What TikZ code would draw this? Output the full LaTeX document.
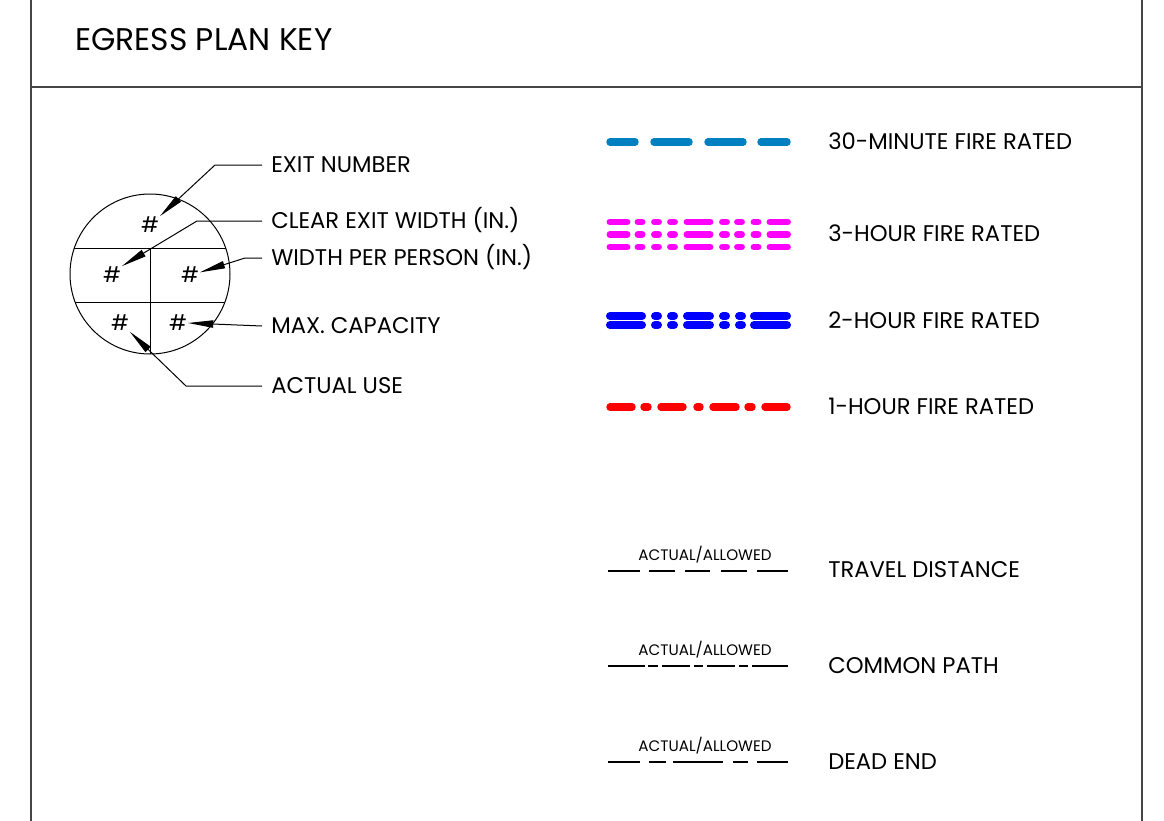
\documentclass[tikz,border=0pt]{standalone}
\usepackage{fontspec}
\setmainfont{Poppins}
\usetikzlibrary{arrows.meta}

\definecolor{halfblue}{RGB}{0,128,192}
\definecolor{threemag}{RGB}{255,0,255}
\definecolor{twoblue}{RGB}{0,0,255}
\definecolor{onered}{RGB}{255,0,0}
\definecolor{framegray}{RGB}{70,70,70}

\tikzset{
  frameline/.style={draw=framegray, line width=1.1pt},
  tagline/.style={draw=black, line width=0.75pt},
  hashmark/.style={inner sep=0.5pt, font=\fontsize{16}{16}\selectfont},
  keylabel/.style={anchor=west, inner xsep=6.75pt, inner ysep=0pt, text height=11.9pt, text depth=0pt, font=\fontsize{17}{17}\selectfont},
  ratelabel/.style={anchor=west, inner sep=0pt, text height=11.9pt, text depth=0pt, font=\fontsize{17}{17}\selectfont},
  smalllabel/.style={inner sep=0pt, text height=8pt, text depth=0pt, font=\fontsize{11.4}{11.4}\selectfont},
  leader/.style={draw=black, line width=0.75pt, -{Triangle[length=19pt, width=5.5pt]}},
  halfline/.style={draw=halfblue, line cap=round, line width=5.6pt},
  threeline/.style={draw=threemag, line cap=round, line width=5.2pt},
  twoline/.style={draw=twoblue, line cap=round, line width=6pt},
  oneline/.style={draw=onered, line cap=round, line width=5.6pt},
  pathline/.style={draw=black, line width=2.2pt},
}

\begin{document}
\begin{tikzpicture}[x=0.75pt, y=-0.75pt]

	\useasboundingbox (0,0) rectangle (1164,821);

	% Frame
	\draw[frameline] (31,0) -- (31,821);
	\draw[frameline] (1142,0) -- (1142,821);
	\draw[frameline] (31,87) -- (1142,87);

	% Title
	\node[anchor=west, inner sep=0pt, font=\fontsize{23.5}{23.5}\selectfont] (title) at (75,40) {EGRESS PLAN KEY};

	% Exit tag
	\begin{scope}
		\clip (150,274) circle[radius=60pt];
		\draw[tagline] (60,248) -- (240,248);
		\draw[tagline] (60,302) -- (240,302);
		\draw[tagline] (150,248) -- (150,360);
	\end{scope}
	\node[circle, tagline, minimum size=120pt, inner sep=0pt] (tag) at (150,274) {};

	\node[hashmark] (h1) at (150,225) {\#};
	\node[hashmark] (h2) at (112,275) {\#};
	\node[hashmark] (h3) at (190,275) {\#};
	\node[hashmark] (h4) at (178,323) {\#};
	\node[hashmark] (h5) at (120,323) {\#};

	% Tag labels
	\node[keylabel] (exitno) at (262,165) {EXIT NUMBER};
	\node[keylabel] (clearw) at (262,221) {CLEAR EXIT WIDTH (IN.)};
	\node[keylabel] (perperson) at (262,258) {WIDTH PER PERSON (IN.)};
	\node[keylabel] (maxcap) at (262,326) {MAX. CAPACITY};
	\node[keylabel] (actual) at (262,386) {ACTUAL USE};

	% Leaders
	\coordinate (k1) at (215,165);
	\coordinate (k2) at (197,221);
	\coordinate (k3) at (245,258);
	\coordinate (k5) at (186,386);
	\draw[leader] (exitno.west) -- (k1) -- (h1.north east);
	\draw[leader] (clearw.west) -- (k2) -- (h2.north east);
	\draw[leader] (perperson.west) -- (k3) -- (h3.15);
	\draw[leader] (maxcap.west) -- (h4.east);
	\draw[leader] (actual.west) -- (k5) -- (h5.south east);

	% Rated walls
	\foreach \a/\b in {610/635, 654/689, 708/743, 761/787}
		\draw[halfline] (\a,142) -- (\b,142);
	\foreach \y in {222,234.5,247}
		\foreach \a/\b in {610/627, 638/642, 654.5/658.5, 670.5/674.5, 687/710, 722.5/726.5, 737.5/741.5, 754/758, 770/787.5}
			\draw[threeline] (\a,\y) -- (\b,\y);
	\foreach \y in {316,325}
		\foreach \a/\b in {610/642, 655/658, 671/674, 687/710, 723/726, 739/742, 754/787}
			\draw[twoline] (\a,\y) -- (\b,\y);
	\foreach \a/\b in {610/632, 644/648, 661/683, 697/700, 713/736, 748/752, 765/787}
		\draw[oneline] (\a,407) -- (\b,407);

	\node[ratelabel] (r30) at (828,142) {30-MINUTE FIRE RATED};
	\node[ratelabel] (r3) at (828,234) {3-HOUR FIRE RATED};
	\node[ratelabel] (r2) at (828,321) {2-HOUR FIRE RATED};
	\node[ratelabel] (r1) at (828,407) {1-HOUR FIRE RATED};

	% Egress paths
	\foreach \a/\b in {608/640, 649/675, 685/710, 721/747, 757/788}
		\draw[pathline] (\a,571) -- (\b,571);
	\foreach \a/\b in {608/645, 648/658, 662/690, 694/703, 707/735, 739/748, 752/788}
		\draw[pathline] (\a,666) -- (\b,666);
	\foreach \a/\b in {608/640, 649/666, 673/723, 733/748, 757/788}
		\draw[pathline] (\a,762) -- (\b,762);

	\node[smalllabel] (ta) at (705,555) {ACTUAL/ALLOWED};
	\node[smalllabel] (ca) at (705,650) {ACTUAL/ALLOWED};
	\node[smalllabel] (da) at (705,746) {ACTUAL/ALLOWED};

	\node[ratelabel] (travel) at (828,570) {TRAVEL DISTANCE};
	\node[ratelabel] (common) at (828,666) {COMMON PATH};
	\node[ratelabel] (deadend) at (828,762) {DEAD END};

\end{tikzpicture}
\end{document}
